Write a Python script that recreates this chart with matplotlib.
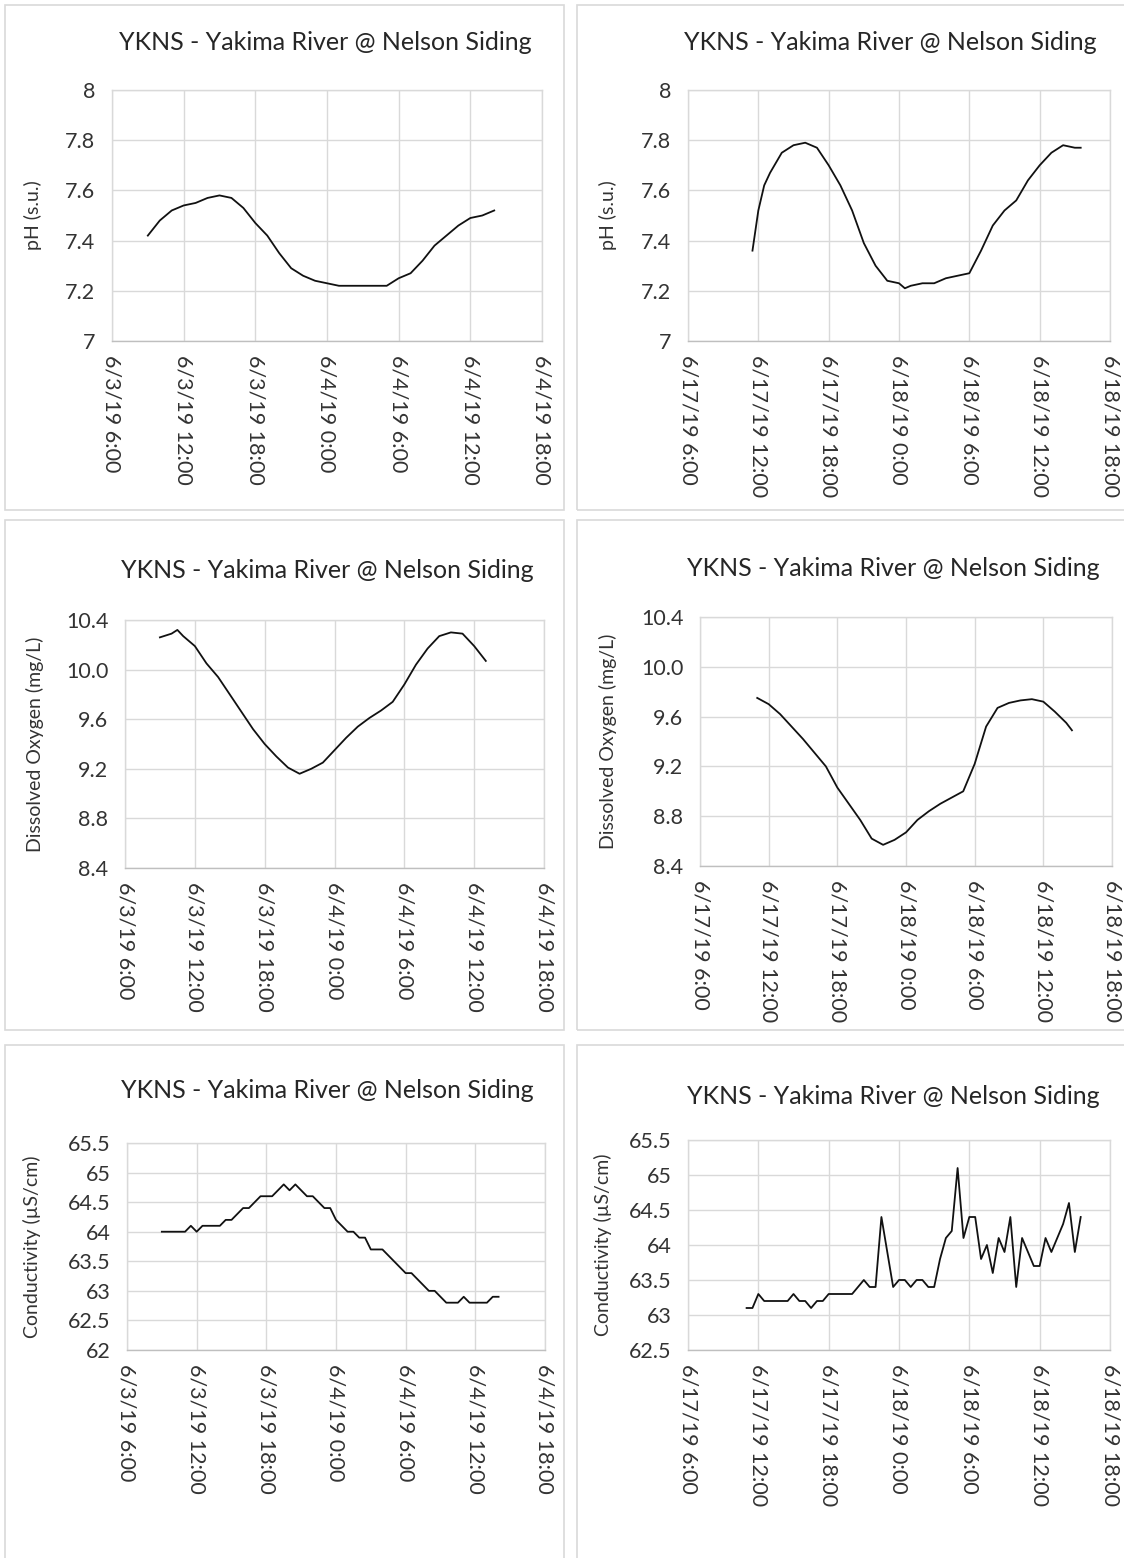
import datetime as dt
import matplotlib
matplotlib.use('Agg')
import matplotlib.pyplot as plt
import matplotlib.dates as mdates
from matplotlib.patches import Rectangle
from matplotlib.ticker import FuncFormatter, MultipleLocator

plt.rcParams['font.family'] = ['Lato', 'DejaVu Sans']

W, H = 1124, 1558
TITLE = 'YKNS - Yakima River @ Nelson Siding'

start_a = dt.datetime(2019, 6, 3, 6)
start_b = dt.datetime(2019, 6, 17, 6)

# hours after the start of each axis (6:00) and the readings
ph_a_hours = [3, 4, 5, 6, 7, 8, 9, 10, 11, 12, 13, 14, 15, 16, 17, 18, 19, 20,
              21, 22, 23, 24, 25, 26, 27, 28, 29, 30, 31, 32]
ph_a = [7.42, 7.48, 7.52, 7.54, 7.55, 7.57, 7.58, 7.57, 7.53, 7.47, 7.42, 7.35,
        7.29, 7.26, 7.24, 7.23, 7.22, 7.22, 7.22, 7.22, 7.22, 7.25, 7.27, 7.32,
        7.38, 7.42, 7.46, 7.49, 7.50, 7.52]

ph_b_hours = [5.5, 6, 6.5, 7, 8, 9, 10, 11, 12, 13, 14, 15, 16, 17, 18, 18.5,
              19, 20, 21, 22, 23, 24, 25, 26, 27, 28, 29, 30, 31, 32, 33, 33.5]
ph_b = [7.36, 7.52, 7.62, 7.67, 7.75, 7.78, 7.79, 7.77, 7.70, 7.62, 7.52, 7.39,
        7.30, 7.24, 7.23, 7.21, 7.22, 7.23, 7.23, 7.25, 7.26, 7.27, 7.36, 7.46,
        7.52, 7.56, 7.64, 7.70, 7.75, 7.78, 7.77, 7.77]

do_a_hours = [3, 4, 4.5, 5, 6, 7, 8, 9, 10, 11, 12, 13, 14, 15, 16, 17, 18, 19,
              20, 21, 22, 23, 24, 25, 26, 27, 28, 29, 30, 31]
do_a = [10.26, 10.29, 10.32, 10.27, 10.19, 10.05, 9.94, 9.80, 9.66, 9.52, 9.40,
        9.30, 9.21, 9.16, 9.20, 9.25, 9.35, 9.45, 9.54, 9.61, 9.67, 9.74, 9.88,
        10.04, 10.17, 10.27, 10.30, 10.29, 10.19, 10.07]

do_b_hours = [5, 6, 7, 8, 9, 10, 11, 12, 13, 14, 15, 16, 17, 18, 19, 20, 21, 22,
              23, 24, 25, 26, 27, 28, 29, 30, 31, 32, 32.5]
do_b = [9.75, 9.70, 9.62, 9.52, 9.42, 9.31, 9.20, 9.03, 8.90, 8.77, 8.62, 8.57,
        8.61, 8.67, 8.77, 8.84, 8.90, 8.95, 9.00, 9.22, 9.52, 9.67, 9.71, 9.73,
        9.74, 9.72, 9.64, 9.55, 9.49]

cond_a_hours = [3, 3.5, 4, 4.5, 5, 5.5, 6, 6.5, 7, 7.5, 8, 8.5, 9, 9.5, 10, 10.5,
                11, 11.5, 12, 12.5, 13, 13.5, 14, 14.5, 15, 15.5, 16, 16.5, 17,
                17.5, 18, 18.5, 19, 19.5, 20, 20.5, 21, 21.5, 22, 22.5, 23, 23.5,
                24, 24.5, 25, 25.5, 26, 26.5, 27, 27.5, 28, 28.5, 29, 29.5, 30,
                30.5, 31, 31.5, 32]
cond_a = [64.0, 64.0, 64.0, 64.0, 64.0, 64.1, 64.0, 64.1, 64.1, 64.1, 64.1, 64.2,
          64.2, 64.3, 64.4, 64.4, 64.5, 64.6, 64.6, 64.6, 64.7, 64.8, 64.7, 64.8,
          64.7, 64.6, 64.6, 64.5, 64.4, 64.4, 64.2, 64.1, 64.0, 64.0, 63.9, 63.9,
          63.7, 63.7, 63.7, 63.6, 63.5, 63.4, 63.3, 63.3, 63.2, 63.1, 63.0, 63.0,
          62.9, 62.8, 62.8, 62.8, 62.9, 62.8, 62.8, 62.8, 62.8, 62.9, 62.9]

cond_b_hours = [5, 5.5, 6, 6.5, 7, 7.5, 8, 8.5, 9, 9.5, 10, 10.5, 11, 11.5, 12,
                12.5, 13, 13.5, 14, 14.5, 15, 15.5, 16, 16.5, 17, 17.5, 18, 18.5,
                19, 19.5, 20, 20.5, 21, 21.5, 22, 22.5, 23, 23.5, 24, 24.5, 25,
                25.5, 26, 26.5, 27, 27.5, 28, 28.5, 29, 29.5, 30, 30.5, 31, 31.5,
                32, 32.5, 33, 33.5]
cond_b = [63.1, 63.1, 63.3, 63.2, 63.2, 63.2, 63.2, 63.2, 63.3, 63.2, 63.2, 63.1,
          63.2, 63.2, 63.3, 63.3, 63.3, 63.3, 63.3, 63.4, 63.5, 63.4, 63.4, 64.4,
          63.9, 63.4, 63.5, 63.5, 63.4, 63.5, 63.5, 63.4, 63.4, 63.8, 64.1, 64.2,
          65.1, 64.1, 64.4, 64.4, 63.8, 64.0, 63.6, 64.1, 63.9, 64.4, 63.4, 64.1,
          63.9, 63.7, 63.7, 64.1, 63.9, 64.1, 64.3, 64.6, 63.9, 64.4]

fig = plt.figure(figsize=(W / 100, H / 100), dpi=100)


def px_axes(l, r, t, b):
    return fig.add_axes([l / W, 1 - b / H, (r - l) / W, (b - t) / H])


def border(l, r, t, b):
    fig.patches.append(Rectangle((l / W, 1 - b / H), (r - l) / W, (b - t) / H,
                                 transform=fig.transFigure, fill=False,
                                 edgecolor='#d9d9d9', linewidth=1.2))


def date_label(x, pos=None):
    d = mdates.num2date(x)
    return f"{d.month}/{d.day}/{d:%y} {d.hour}:{d:%M}"


def general(v, pos=None):
    return f"{v:g}"


def one_dec(v, pos=None):
    return f"{v:.1f}"


# panel box, axes box (l, r, t, b in px), title centre, ylabel right edge x
panels = [
    dict(box=(5, 564, 5, 510), ax=(112, 542, 90, 341), title=(325, 42), ylx=42,
         start=start_a, hrs=ph_a_hours, vals=ph_a, ylim=(7, 8), step=0.2,
         fmt=general, ylabel='pH (s.u.)'),
    dict(box=(577, 1130, 5, 510), ax=(688, 1110, 90, 341), title=(890, 42), ylx=617,
         start=start_b, hrs=ph_b_hours, vals=ph_b, ylim=(7, 8), step=0.2,
         fmt=general, ylabel='pH (s.u.)'),
    dict(box=(5, 564, 520, 1030), ax=(125, 544, 620, 868), title=(327, 571), ylx=44,
         start=start_a, hrs=do_a_hours, vals=do_a, ylim=(8.4, 10.4), step=0.4,
         fmt=one_dec, ylabel='Dissolved Oxygen (mg/L)'),
    dict(box=(577, 1130, 520, 1030), ax=(700, 1112, 617, 866), title=(893, 569), ylx=617,
         start=start_b, hrs=do_b_hours, vals=do_b, ylim=(8.4, 10.4), step=0.4,
         fmt=one_dec, ylabel='Dissolved Oxygen (mg/L)'),
    dict(box=(5, 564, 1045, 1565), ax=(127, 545, 1143, 1350), title=(327, 1091), ylx=41,
         start=start_a, hrs=cond_a_hours, vals=cond_a, ylim=(62, 65.5), step=0.5,
         fmt=general, ylabel='Conductivity (µS/cm)'),
    dict(box=(577, 1130, 1045, 1565), ax=(688, 1110, 1140, 1350), title=(893, 1097), ylx=612,
         start=start_b, hrs=cond_b_hours, vals=cond_b, ylim=(62.5, 65.5), step=0.5,
         fmt=general, ylabel='Conductivity (µS/cm)'),
]

for p in panels:
    border(*p['box'])
    l, r, t, b = p['ax']
    ax = px_axes(l, r, t, b)
    times = [p['start'] + dt.timedelta(hours=h) for h in p['hrs']]
    ax.plot(times, p['vals'], color='#111111', linewidth=1.3)

    ax.set_xlim(p['start'], p['start'] + dt.timedelta(hours=36))
    ax.set_ylim(*p['ylim'])
    ax.xaxis.set_major_locator(mdates.HourLocator(byhour=[0, 6, 12, 18]))
    ax.xaxis.set_major_formatter(FuncFormatter(date_label))
    ax.yaxis.set_major_locator(MultipleLocator(p['step']))
    ax.yaxis.set_major_formatter(FuncFormatter(p['fmt']))

    ax.grid(True, color='#d9d9d9', linewidth=1.0)
    ax.set_axisbelow(True)
    for s in ax.spines.values():
        s.set_color('#d9d9d9')
        s.set_linewidth(1.0)
    ax.spines['bottom'].set_color('#bfbfbf')
    ax.tick_params(length=0, labelsize=15.5, colors='#333333')
    ax.tick_params(axis='y', pad=12)
    ax.tick_params(axis='x', pad=10)
    plt.setp(ax.get_xticklabels(), rotation=-90, ha='center', va='top')

    ax.set_ylabel(p['ylabel'], fontsize=14, color='#333333')
    ax.yaxis.set_label_coords((p['ylx'] - l) / (r - l), 0.5)

    tx, ty = p['title']
    fig.text(tx / W, 1 - ty / H, TITLE, ha='center', va='center',
             fontsize=18, color='#262626')

fig.savefig('out.png', dpi=100, facecolor='white')
